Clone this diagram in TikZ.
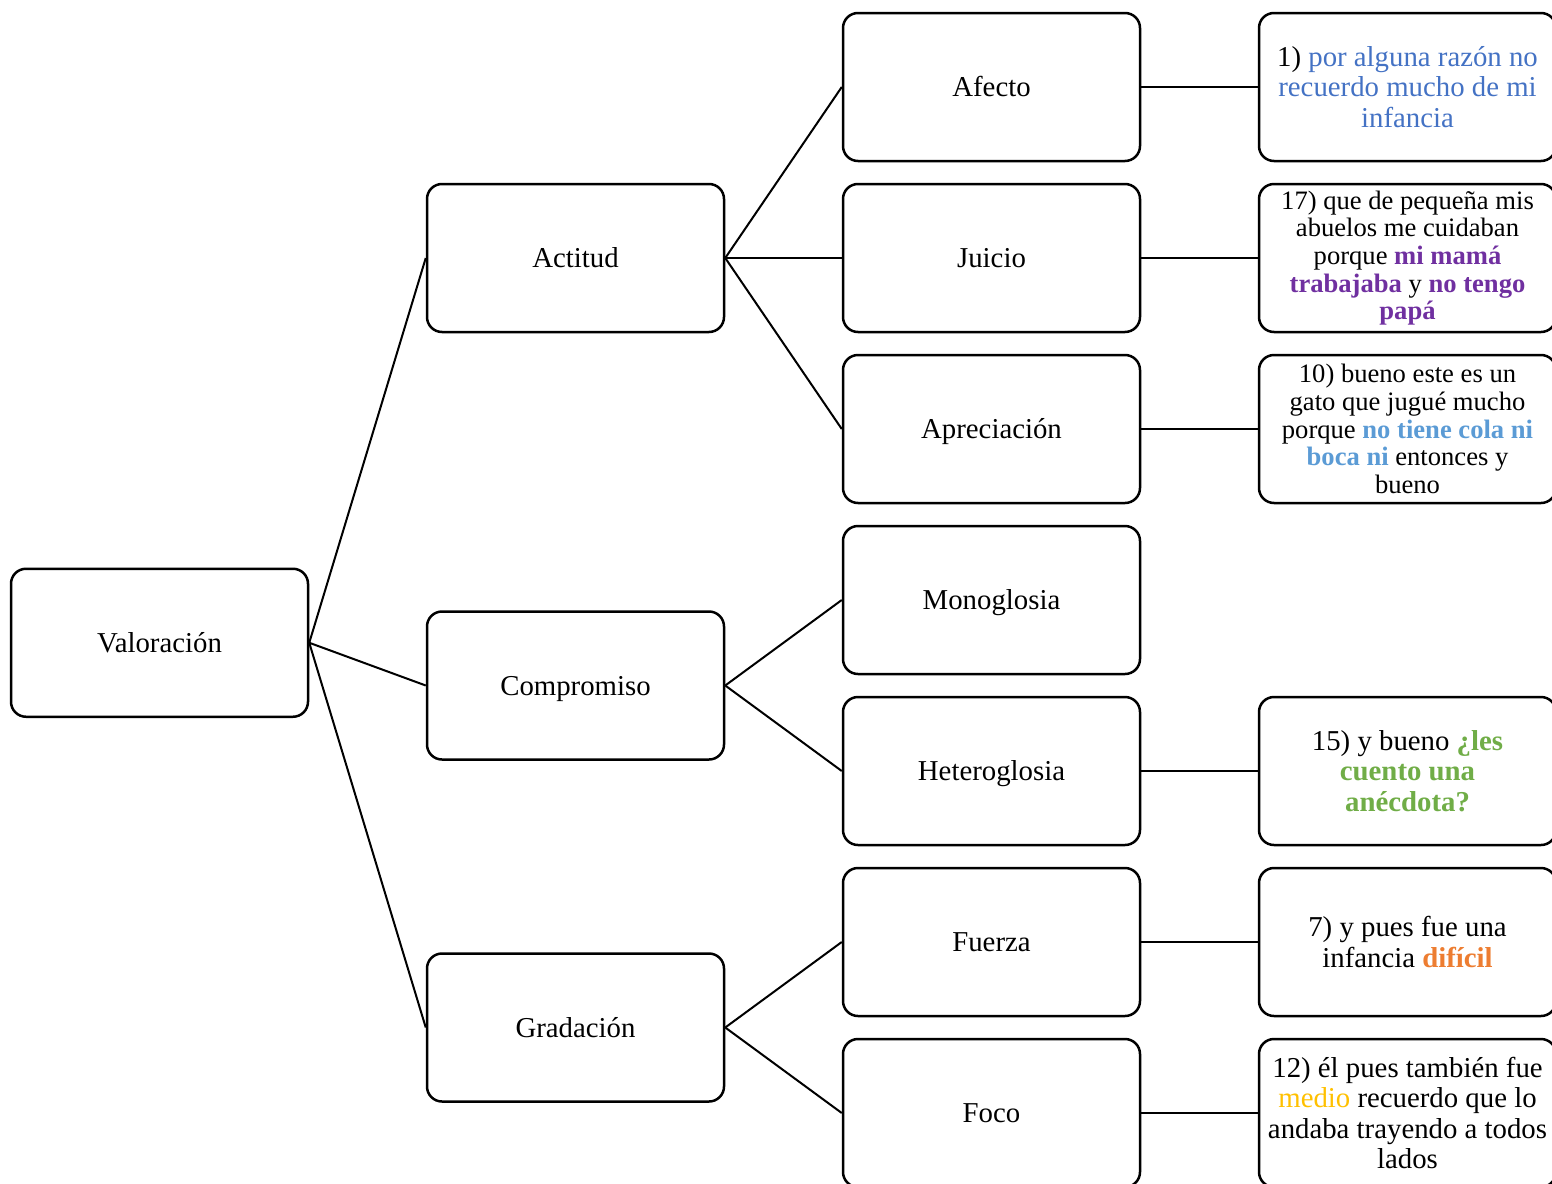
\documentclass[tikz,border=0pt]{standalone}
\usepackage{fontspec}
\setmainfont{Liberation Serif}
\usepackage{xcolor}
\usepackage{tikz}
\usetikzlibrary{positioning, calc}
\definecolor{vlblue}{RGB}{68,114,196}
\definecolor{vlpurple}{RGB}{112,48,160}
\definecolor{vlsky}{RGB}{91,155,213}
\definecolor{vlgreen}{RGB}{112,173,71}
\definecolor{vlorange}{RGB}{237,125,49}
\definecolor{vlyellow}{RGB}{255,192,0}
\newcommand{\hlb}[2]{\textcolor{#1}{\textbf{#2}}}

\begin{document}
\begin{tikzpicture}[x=0.5pt, y=-0.5pt,
  frame/.style={rectangle, rounded corners=7.5pt, draw=black, line width=1.25pt, minimum width=148.5pt, minimum height=74pt, align=center, font=\fontsize{14.4}{15.2}\selectfont},
  box/.style={frame, text height=12.6pt, text depth=3pt},
  quote/.style={frame, inner sep=2pt},
  small/.style={font=\fontsize{13.3}{13.8}\selectfont},
  link/.style={line width=1pt, draw=black}
]
\useasboundingbox (0,0) rectangle (1552,1183);
\clip (0,0) rectangle (1552,1183);
% third column
\node[box] (afecto) at (991.5,87) {Afecto};
\node[box, below=10.25pt of afecto] (juicio) {Juicio};
\node[box, below=10.25pt of juicio] (apreciacion) {Apreciación};
\node[box, below=10.25pt of apreciacion] (mono) {Monoglosia};
\node[box, below=10.25pt of mono] (hetero) {Heteroglosia};
\node[box, below=10.25pt of hetero] (fuerza) {Fuerza};
\node[box, below=10.25pt of fuerza] (foco) {Foco};
% second column
\coordinate (cm) at ($(mono.west)!0.5!(hetero.west)$);
\coordinate (gm) at ($(fuerza.west)!0.5!(foco.west)$);
\node[box, left=58.25pt of juicio] (actitud) {Actitud};
\node[box, left=58.25pt of cm] (compromiso) {Compromiso};
\node[box, left=58.25pt of gm] (gradacion) {Gradación};
% root
\coordinate (vm) at ($(actitud.west)!0.5!(gradacion.west)$);
\node[box, left=58.25pt of vm] (valoracion) {Valoración};
% examples
\node[quote, right=58.25pt of afecto] (ej1) {1) \textcolor{vlblue}{por alguna razón no}\\\textcolor{vlblue}{recuerdo mucho de mi}\\\textcolor{vlblue}{infancia}};
\node[quote, small, right=58.25pt of juicio] (ej17) {17) que de pequeña mis\\abuelos me cuidaban\\porque \hlb{vlpurple}{mi mamá}\\\hlb{vlpurple}{trabajaba} y \hlb{vlpurple}{no tengo}\\\hlb{vlpurple}{papá}};
\node[quote, small, right=58.25pt of apreciacion] (ej10) {10) bueno este es un\\gato que jugué mucho\\porque \hlb{vlsky}{no tiene cola ni}\\\hlb{vlsky}{boca ni} entonces y\\bueno};
\node[quote, right=58.25pt of hetero] (ej15) {15) y bueno \hlb{vlgreen}{¿les}\\\hlb{vlgreen}{cuento una}\\\hlb{vlgreen}{anécdota?}};
\node[quote, right=58.25pt of fuerza] (ej7) {7) y pues fue una\\infancia \hlb{vlorange}{difícil}};
\node[quote, right=58.25pt of foco] (ej12) {12) él pues también fue\\\textcolor{vlyellow}{medio} recuerdo que lo\\andaba trayendo a todos\\lados};
% connectors
\draw[link] (valoracion.east) -- (actitud.west);
\draw[link] (valoracion.east) -- (compromiso.west);
\draw[link] (valoracion.east) -- (gradacion.west);
\draw[link] (actitud.east) -- (afecto.west);
\draw[link] (actitud.east) -- (juicio.west);
\draw[link] (actitud.east) -- (apreciacion.west);
\draw[link] (compromiso.east) -- (mono.west);
\draw[link] (compromiso.east) -- (hetero.west);
\draw[link] (gradacion.east) -- (fuerza.west);
\draw[link] (gradacion.east) -- (foco.west);
\draw[link] (afecto) -- (ej1);
\draw[link] (juicio) -- (ej17);
\draw[link] (apreciacion) -- (ej10);
\draw[link] (hetero) -- (ej15);
\draw[link] (fuerza) -- (ej7);
\draw[link] (foco) -- (ej12);
\end{tikzpicture}
\end{document}
